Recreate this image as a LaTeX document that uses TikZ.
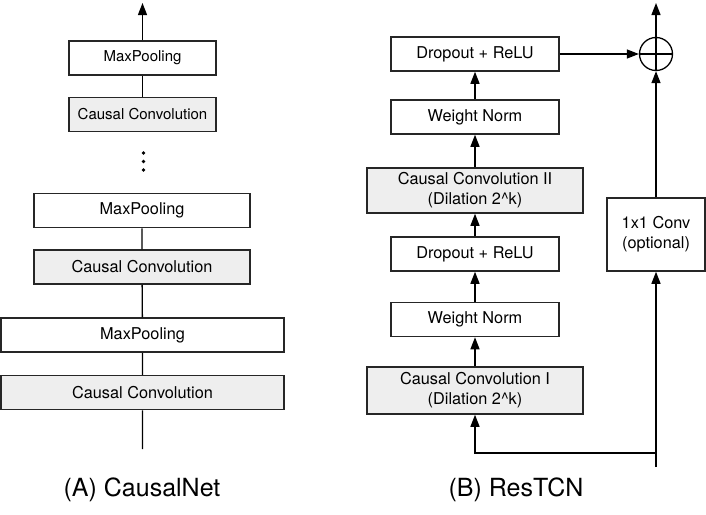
\documentclass[tikz,border=0pt]{standalone}
\usepackage{fontspec}
\setmainfont{TeX Gyre Heros}
\usetikzlibrary{arrows.meta}
\definecolor{convgray}{HTML}{EEEEEE}
\begin{document}
\begin{tikzpicture}[x=1pt,y=-1pt,line width=1.3pt,>={Triangle[length=12pt,width=9pt]},
  blk/.style={draw=black!85,line width=1.5pt,minimum height=34pt,inner sep=0pt,align=center,font=\fontsize{16.3}{20}\selectfont},
  conv/.style={blk,fill=convgray},
  small/.style={font=\fontsize{15}{18}\selectfont},
  caption/.style={font=\fontsize{25}{30}\selectfont}]
\useasboundingbox (0,0) rectangle (706,514);
% (A) CausalNet
\node[blk,small,minimum width=147pt] (a5) at (142.5,58) {MaxPooling};\node[conv,small,minimum width=147pt] (a4) at (142.5,114.5) {Causal Convolution};
\foreach \y in {153,161.5,170}{\fill (143.5,\y) circle (1.8pt);}
\node[blk,minimum width=216pt] (a3) at (142,210.5) {MaxPooling};\node[conv,minimum width=216pt] (a2) at (142,267) {Causal Convolution};
\node[blk,minimum width=283pt] (a1) at (142.5,335) {MaxPooling};\node[conv,minimum width=283pt] (a0) at (142.5,392.5) {Causal Convolution};
\coordinate (ain) at (142.5,449);\coordinate (aout) at (142.5,3);
\draw (ain)--(a0)--(a1)--(a2)--(a3);\draw (a4)--(a5);\draw[->] (a5)--(aout);
\node[caption] (capa) at (142,490) {(A) CausalNet};
% (B) ResTCN
\node[conv,minimum width=216pt,minimum height=47pt] (b0) at (475,390.5) {Causal Convolution I\\(Dilation 2\^{}k)};
\node[blk,minimum width=168pt] (b1) at (475,319.5) {Weight Norm};\node[blk,minimum width=168pt] (b2) at (475,254) {Dropout + ReLU};
\node[conv,minimum width=216pt,minimum height=45pt] (b3) at (475,190.5) {Causal Convolution II\\(Dilation 2\^{}k)};
\node[blk,minimum width=168pt] (b4) at (475,117) {Weight Norm};\node[blk,minimum width=168pt] (b5) at (475,54) {Dropout + ReLU};
\foreach \i [evaluate=\i as \j using int(\i+1)] in {0,...,4}{\draw[->] (b\i)--(b\j);}
\node[blk,minimum width=98pt,minimum height=73pt] (res) at (656,234.5) {1x1 Conv\\(optional)};
\node[circle,draw,inner sep=0pt,minimum size=33pt] (sum) at (656,54) {};\draw (sum.north)--(sum.south) (sum.west)--(sum.east);
\coordinate (bin) at (656,467);\coordinate (bc) at (656,453);\coordinate (bout) at (656,3);
\draw (bin)--(bc);\draw[->] (bc)-|(b0);\draw[->] (bc)--(res);\draw[->] (res)--(sum);\draw[->] (b5)--(sum);\draw[->] (sum)--(bout);
\node[caption] (capb) at (516,490) {(B) ResTCN};
\end{tikzpicture}
\end{document}
